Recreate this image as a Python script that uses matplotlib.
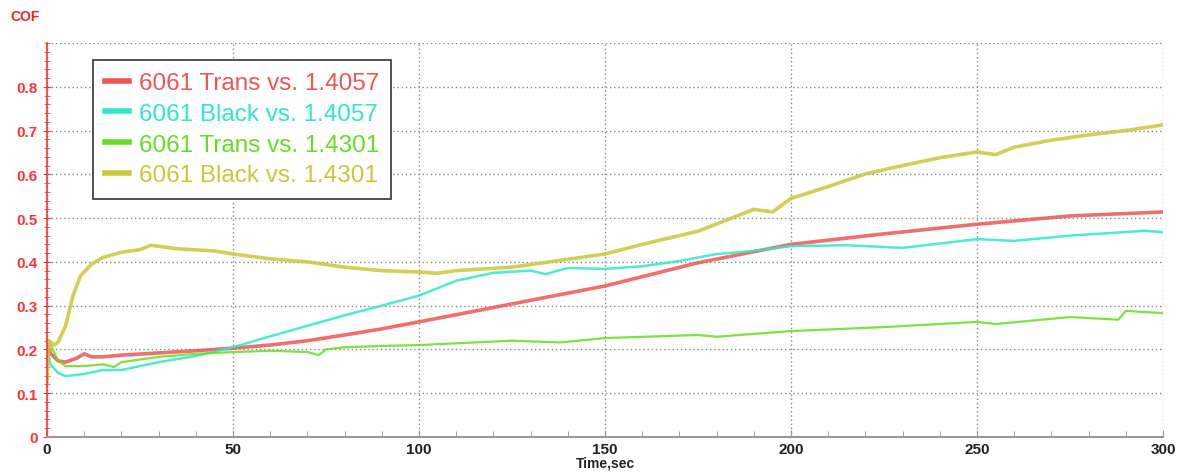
import numpy as np
import matplotlib.pyplot as plt
from matplotlib.ticker import MultipleLocator

plt.rcParams["font.family"] = ["Liberation Sans", "DejaVu Sans"]

# values (time in s, COF)
t_trans_4057 = [0, 1, 3, 5, 8, 10, 12, 15, 20, 30, 40, 50, 60, 70, 80, 90, 100,
                125, 150, 175, 200, 225, 250, 275, 300]
cof_trans_4057 = [0.21, 0.19, 0.174, 0.171, 0.18, 0.19, 0.183, 0.183, 0.187, 0.192,
                  0.197, 0.203, 0.21, 0.22, 0.233, 0.247, 0.263,
                  0.304, 0.345, 0.398, 0.440, 0.464, 0.486, 0.505, 0.514]

t_black_4057 = [0, 1, 3, 5, 10, 15, 20, 25, 30, 40, 50, 60, 70, 80, 90, 100, 110,
                120, 130, 134, 140, 150, 160, 170, 180, 190, 200, 215, 230, 240,
                250, 260, 275, 295, 300]
cof_black_4057 = [0.195, 0.165, 0.146, 0.139, 0.144, 0.153, 0.153, 0.162, 0.171,
                  0.185, 0.205, 0.23, 0.254, 0.278, 0.30, 0.323, 0.357,
                  0.375, 0.38, 0.372, 0.386, 0.384, 0.39, 0.402, 0.418, 0.425,
                  0.436, 0.438, 0.432, 0.442, 0.452, 0.448, 0.46, 0.471, 0.468]

t_trans_4301 = [0, 1, 3, 5, 10, 15, 18, 20, 30, 40, 50, 60, 70, 73, 75, 80, 90,
                100, 125, 138, 150, 175, 180, 200, 225, 250, 255, 275, 288, 290, 300]
cof_trans_4301 = [0.224, 0.21, 0.174, 0.162, 0.162, 0.166, 0.16, 0.171, 0.183,
                  0.19, 0.194, 0.197, 0.194, 0.187, 0.2, 0.205, 0.208,
                  0.21, 0.22, 0.216, 0.226, 0.233, 0.229, 0.242, 0.251, 0.263,
                  0.258, 0.274, 0.268, 0.288, 0.283]

t_black_4301 = [0, 0.5, 2, 3, 5, 7, 9, 12, 15, 20, 25, 28, 35, 45, 50, 60, 70,
                80, 90, 100, 105, 110, 125, 135, 150, 160, 175, 190, 195, 200,
                210, 220, 230, 240, 250, 255, 260, 270, 280, 290, 300]
cof_black_4301 = [0.12, 0.22, 0.21, 0.217, 0.254, 0.323, 0.368, 0.395, 0.41, 0.422,
                  0.428, 0.438, 0.43, 0.425, 0.418, 0.407, 0.40,
                  0.388, 0.38, 0.377, 0.374, 0.38, 0.388, 0.40, 0.418, 0.44,
                  0.47, 0.52, 0.514, 0.545, 0.572, 0.601, 0.62, 0.638, 0.651,
                  0.645, 0.662, 0.678, 0.69, 0.70, 0.713]

labels = ["6061 Trans vs. 1.4057", "6061 Black vs. 1.4057",
          "6061 Trans vs. 1.4301", "6061 Black vs. 1.4301"]
colors = ["#ee5555", "#2ee8c8", "#66dd22", "#c8c83a"]

fig = plt.figure(figsize=(11.79, 4.77), dpi=100)
ax = fig.add_axes([47 / 1179, 1 - 438 / 477, 1116 / 1179, 394 / 477])

series = [(t_trans_4057, cof_trans_4057, 2.6),
          (t_black_4057, cof_black_4057, 1.8),
          (t_trans_4301, cof_trans_4301, 1.6),
          (t_black_4301, cof_black_4301, 2.6)]
for (t, c, lw), lab, col in zip(series, labels, colors):
    ax.plot(t, c, color=col, lw=lw, label=lab, alpha=0.85)

ax.set_xlim(0, 300)
ax.set_ylim(0, 0.9)
ax.xaxis.set_major_locator(MultipleLocator(50))
ax.xaxis.set_minor_locator(MultipleLocator(10))
ax.yaxis.set_major_locator(MultipleLocator(0.1))
ax.yaxis.set_minor_locator(MultipleLocator(0.02))
ax.grid(True, which="major", color="#888888", linestyle=(0, (1, 2)), linewidth=1)

for side in ("top", "right"):
    ax.spines[side].set_visible(False)
ax.spines["left"].set_color("#ff3333")
ax.spines["left"].set_linewidth(1.2)
ax.spines["bottom"].set_color("#999999")
ax.spines["bottom"].set_linewidth(1.5)

ax.tick_params(axis="y", which="both", colors="#ff3333", direction="inout")
ax.tick_params(axis="y", which="major", length=6, labelsize=11)
ax.tick_params(axis="y", which="minor", length=4)
ax.tick_params(axis="x", which="both", colors="#999999", direction="in", labelcolor="#222222")
ax.tick_params(axis="x", which="major", length=5, labelsize=11)
ax.tick_params(axis="x", which="minor", length=4)
for lbl in ax.get_xticklabels():
    lbl.set_fontweight("bold")
ax.set_yticks([0, 0.1, 0.2, 0.3, 0.4, 0.5, 0.6, 0.7, 0.8])
ax.set_yticklabels(["0", "0.1", "0.2", "0.3", "0.4", "0.5", "0.6", "0.7", "0.8"],
                   fontweight="bold", color="#ff3333")
ax.axhline(0.9, color="#888888", linestyle=(0, (1, 2)), linewidth=1)

ax.set_xlabel("Time,sec", fontsize=10, fontweight="bold", color="#222222", labelpad=0)
fig.text(10 / 1179, 1 - 17 / 477, "COF", fontsize=10, fontweight="bold",
         color="#ee2222", va="center")

leg = ax.legend(loc="upper left", bbox_to_anchor=(0.041, 0.957), fontsize=17.5,
                handlelength=1.0, handletextpad=0.4, labelspacing=0.36,
                borderpad=0.5, borderaxespad=0, fancybox=False, framealpha=1)
leg.get_frame().set_edgecolor("#333333")
leg.get_frame().set_linewidth(1.2)
for text, col in zip(leg.get_texts(), colors):
    text.set_color(col)
for line in leg.get_lines():
    line.set_linewidth(4)
    line.set_alpha(1)

fig.savefig("out.png", dpi=100)
